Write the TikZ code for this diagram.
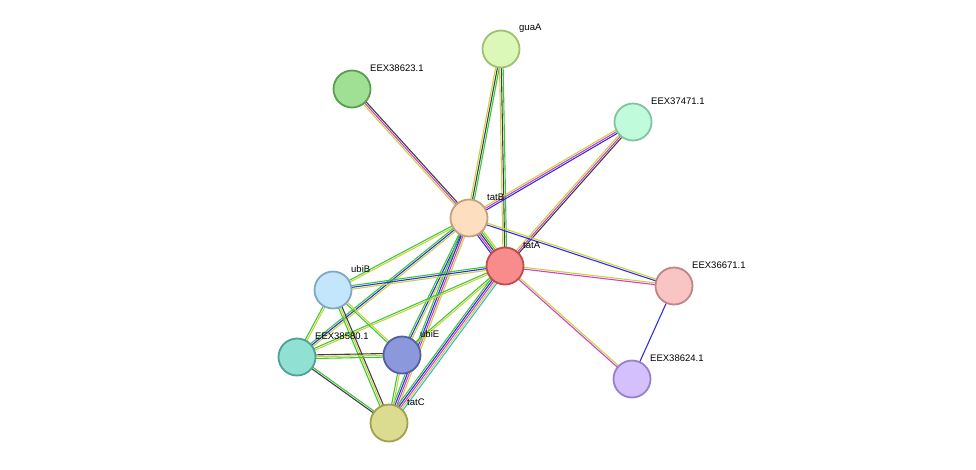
\documentclass[tikz,border=0pt]{standalone}
\usepackage{fontspec}
\setmainfont{Liberation Sans}
\usetikzlibrary{calc,backgrounds}

\definecolor{cnb}{HTML}{3CC83C}
\definecolor{ctm}{HTML}{C8D43C}
\definecolor{cco}{HTML}{404040}
\definecolor{cex}{HTML}{D040D0}
\definecolor{cdb}{HTML}{3CB8C8}
\definecolor{coc}{HTML}{3030E0}

\tikzset{
  prot/.style={circle, minimum size=37pt, inner sep=0pt, line width=1.8pt},
  lbl/.style={anchor=west, inner sep=0pt, font=\fontsize{9.5}{11}\selectfont},
  link/.style={line width=1.1pt}
}

% protein node with its name beside it
\newcommand{\prot}[6]{
  \definecolor{#1fill}{HTML}{#4}
  \definecolor{#1line}{HTML}{#5}
  \node[prot, fill=#1fill, draw=#1line] (#1) at (#2,#3) {};
  \node[lbl] (#1l) at ($(#1)+(18,-21)$) {#6};
}

% bundle of parallel evidence lines between two nodes
\newcommand{\evid}[3]{
  \foreach \c [count=\n] in {#3} {\xdef\ncount{\n}}
  \foreach \c [count=\i] in {#3} {
    \pgfmathsetmacro\o{(\i-(\ncount+1)/2)*1.8}
    \draw[link, \c] ($(#1)!\o pt!90:(#2)$) -- ($(#2)!\o pt!-90:(#1)$);
  }
}

\begin{document}
\begin{tikzpicture}[x=1pt, y=-1pt]
\useasboundingbox (0,0) rectangle (976,469);

\prot{guaA}{501}{49}{DCF8B8}{A0C070}{guaA}
\prot{EEX38623}{352}{89}{9FE095}{5A9E50}{EEX38623.1}
\prot{EEX37471}{633}{122}{C0FCDC}{80C4A0}{EEX37471.1}
\prot{tatB}{469}{218}{FDDFC0}{C4A080}{tatB}
\prot{tatA}{505}{266}{F88C8C}{C04C4C}{tatA}
\prot{EEX36671}{674}{286}{F8C4C4}{C08484}{EEX36671.1}
\prot{ubiB}{333}{290}{C4E6FC}{80A8C4}{ubiB}
\prot{EEX38580}{297}{357}{90E0D4}{50A094}{EEX38580.1}
\prot{ubiE}{402}{355}{8C98DC}{5460A0}{ubiE}
\prot{EEX38624}{632}{379}{D4C0FC}{9A80C8}{EEX38624.1}
\prot{tatC}{389}{423}{DCDC90}{A0A050}{tatC}

\begin{scope}[on background layer]
\evid{tatB}{guaA}{cnb,cco,ctm}
\evid{tatA}{guaA}{cnb,cco,ctm}
\evid{tatB}{EEX38623}{cco,cex,ctm}
\evid{tatB}{EEX37471}{coc,cex,ctm}
\evid{tatA}{EEX37471}{cco,cex,ctm}
\evid{tatB}{tatA}{coc,cex,cco,cnb,ctm}
\evid{tatB}{EEX36671}{coc,ctm}
\evid{tatA}{EEX36671}{cex,ctm}
\evid{tatA}{EEX38624}{cex,ctm}
\evid{EEX36671}{EEX38624}{coc}
\evid{tatB}{ubiB}{cnb,ctm}
\evid{tatB}{EEX38580}{cnb,coc,ctm}
\evid{tatB}{ubiE}{cnb,coc,ctm}
\evid{tatB}{tatC}{cnb,coc,cex,ctm}
\evid{tatA}{ubiB}{cnb,coc,ctm}
\evid{tatA}{EEX38580}{cnb,ctm}
\evid{tatA}{ubiE}{cnb,ctm}
\evid{tatA}{tatC}{cnb,coc,cex,ctm,cdb}
\evid{ubiB}{EEX38580}{cnb,ctm}
\evid{ubiB}{ubiE}{cnb,ctm}
\evid{ubiB}{tatC}{cnb,ctm,cco}
\evid{EEX38580}{ubiE}{cnb,ctm,cco}
\evid{EEX38580}{tatC}{cco,cnb}
\evid{ubiE}{tatC}{cnb,ctm}
\end{scope}
\end{tikzpicture}
\end{document}
